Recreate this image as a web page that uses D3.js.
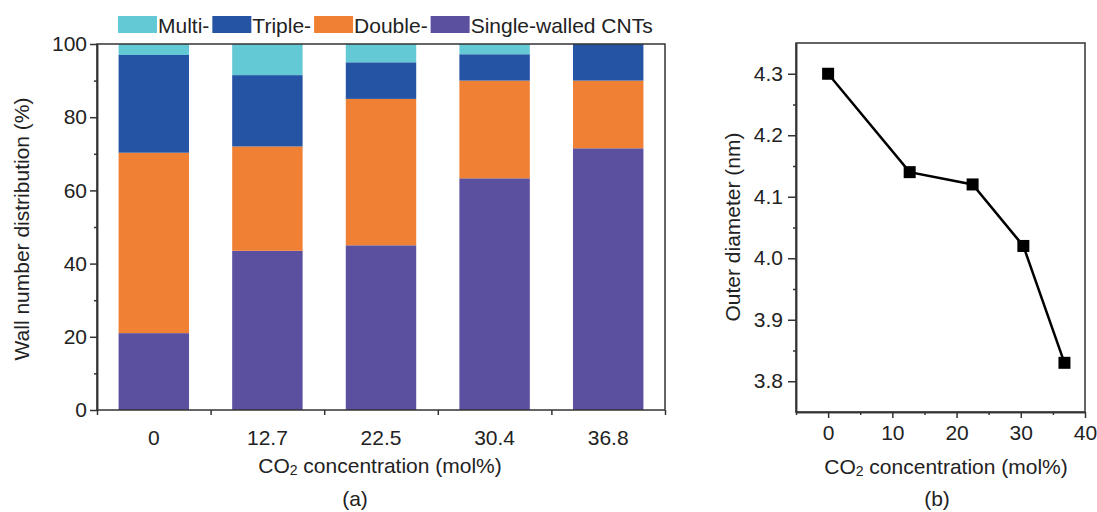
<!DOCTYPE html>
<meta charset="utf-8">
<style>
 body { margin: 0; background: #fff; }
 svg { font-family: "Liberation Sans", Arial, sans-serif; background: #fff; }
 .axis path, .axis line { stroke: #333; stroke-width: 1.5px; }
 .axis text { font-size: 21px; fill: #222; }
 .title { font-size: 21px; fill: #222; }
</style>
<body>
<svg width="1097" height="512"></svg>
<script src="https://d3js.org/d3.v7.min.js"></script>
<script>
 // left panel: wall number distribution (%), stacked
 var concs = ["0", "12.7", "22.5", "30.4", "36.8"];
 var single = [21, 43.5, 45, 63.3, 71.5];
 var double_ = [49.3, 28.5, 40, 26.7, 18.5];
 var triple = [26.7, 19.5, 10, 7.2, 10];
 var multi = [3, 8.5, 5, 2.8, 0];
 var seriesNames = ["Single-walled CNTs", "Double-", "Triple-", "Multi-"];
 var legendOrder = ["Multi-", "Triple-", "Double-", "Single-walled CNTs"];
 var yTicksA = [0, 20, 40, 60, 80, 100];

 // right panel: outer diameter (nm)
 var co2 = [0, 12.7, 22.5, 30.4, 36.8];
 var diameter = [4.30, 4.14, 4.12, 4.02, 3.83];
 var yTicksB = [3.8, 3.9, 4.0, 4.1, 4.2, 4.3];
 var xTicksB = [0, 10, 20, 30, 40];

 var colors = {
     "Single-walled CNTs": "#5b4fa0",
     "Double-": "#f08033",
     "Triple-": "#2454a3",
     "Multi-": "#63c9d4"
 };

 var svg = d3.select("svg");

 /* ---------- panel (a) ---------- */
 var a = {left: 97, right: 665, top: 44, bottom: 410};
 var rows = concs.map(function(c, i) {
     return {"c": c, "Single-walled CNTs": single[i], "Double-": double_[i], "Triple-": triple[i], "Multi-": multi[i]};
 });
 var stack = d3.stack().keys(seriesNames)(rows);

 var xa = d3.scaleBand().domain(concs).range([a.left, a.right]).paddingInner(0.38).paddingOuter(0.19);
 var xEdges = d3.scaleLinear().domain([0, concs.length]).range([a.left, a.right]);
 var ya = d3.scaleLinear().domain([0, 100]).range([a.bottom, a.top]);

 var ga = svg.append("g");
 ga.selectAll("g.layer")
   .data(stack)
   .enter().append("g")
   .attr("fill", function(d) { return colors[d.key]; })
   .selectAll("rect")
   .data(function(d) { return d; })
   .enter().append("rect")
   .attr("x", function(d) { return xa(d.data.c); })
   .attr("width", xa.bandwidth())
   .attr("y", function(d) { return ya(d[1]); })
   .attr("height", function(d) { return ya(d[0]) - ya(d[1]); });

 // frame
 ga.append("rect")
   .attr("x", a.left).attr("y", a.top)
   .attr("width", a.right - a.left).attr("height", a.bottom - a.top)
   .attr("fill", "none").attr("stroke", "#333").attr("stroke-width", 1.5);

 // y axis, major + minor ticks
 ga.append("g").attr("class", "axis")
   .attr("transform", "translate(" + a.left + ",0)")
   .call(d3.axisLeft(ya).tickValues(yTicksA).tickSize(7).tickPadding(3).tickSizeOuter(0));
 ga.append("g").attr("class", "axis")
   .attr("transform", "translate(" + a.left + ",0)")
   .call(d3.axisLeft(ya).tickValues([10, 30, 50, 70, 90]).tickSize(3).tickFormat("").tickSizeOuter(0));

 // x axis: labels at band centres, ticks at band edges
 ga.append("g").attr("class", "axis")
   .attr("transform", "translate(0," + a.bottom + ")")
   .call(d3.axisBottom(xa).tickSize(0).tickPadding(20).tickSizeOuter(0))
   .select(".domain").remove();
 ga.append("g").attr("class", "axis")
   .attr("transform", "translate(0," + a.bottom + ")")
   .call(d3.axisBottom(xEdges).tickValues(d3.range(concs.length + 1)).tickSize(5).tickFormat("").tickSizeOuter(0))
   .select(".domain").remove();

 // legend: swatch then label, next swatch right after the label
 var lx = 118;
 legendOrder.forEach(function(name) {
     var lg = ga.append("g").attr("transform", "translate(" + lx + ",16)");
     lg.append("rect").attr("width", 39).attr("height", 17).attr("fill", colors[name]);
     var t = lg.append("text").attr("class", "title").attr("x", 40).attr("y", 17).text(name);
     lx = lx + 40 + t.node().getComputedTextLength() + 3;
 });

 ga.append("text").attr("class", "title")
   .attr("transform", "translate(29," + 229 + ") rotate(-90)")
   .attr("text-anchor", "middle").text("Wall number distribution (%)");
 var xtA = ga.append("text").attr("class", "title")
   .attr("x", (a.left + a.right) / 2 - 1).attr("y", 473).attr("text-anchor", "middle");
 xtA.append("tspan").text("CO");
 xtA.append("tspan").attr("font-size", "14px").attr("dy", 2).text("2");
 xtA.append("tspan").attr("dy", -2).text(" concentration (mol%)");
 ga.append("text").attr("class", "title")
   .attr("x", 355).attr("y", 506).attr("text-anchor", "middle").text("(a)");

 /* ---------- panel (b) ---------- */
 var b = {left: 796, right: 1085, top: 43, bottom: 412};
 var xb = d3.scaleLinear().domain([-5, 40]).range([b.left, b.right]);
 var yb = d3.scaleLinear().domain([3.75, 4.35]).range([b.bottom, b.top]);
 var gb = svg.append("g");

 gb.append("rect")
   .attr("x", b.left).attr("y", b.top)
   .attr("width", b.right - b.left).attr("height", b.bottom - b.top)
   .attr("fill", "none").attr("stroke", "#333").attr("stroke-width", 1.5);

 gb.append("g").attr("class", "axis")
   .attr("transform", "translate(" + b.left + ",0)")
   .call(d3.axisLeft(yb).tickValues(yTicksB).tickFormat(d3.format(".1f")).tickSize(8).tickPadding(5).tickSizeOuter(0));
 gb.append("g").attr("class", "axis")
   .attr("transform", "translate(" + b.left + ",0)")
   .call(d3.axisLeft(yb).tickValues([3.85, 3.95, 4.05, 4.15, 4.25]).tickSize(3).tickFormat("").tickSizeOuter(0));
 gb.append("g").attr("class", "axis")
   .attr("transform", "translate(0," + b.bottom + ")")
   .call(d3.axisBottom(xb).tickValues(xTicksB).tickSize(6).tickPadding(7).tickSizeOuter(0));
 gb.append("g").attr("class", "axis")
   .attr("transform", "translate(0," + b.bottom + ")")
   .call(d3.axisBottom(xb).tickValues([-5, 5, 15, 25, 35]).tickSize(3).tickFormat("").tickSizeOuter(0));

 var pts = co2.map(function(c, i) { return [c, diameter[i]]; });
 gb.append("path")
   .datum(pts)
   .attr("fill", "none").attr("stroke", "#000").attr("stroke-width", 2.5)
   .attr("d", d3.line().x(function(d) { return xb(d[0]); }).y(function(d) { return yb(d[1]); }));
 gb.selectAll("rect.pt")
   .data(pts)
   .enter().append("rect").attr("class", "pt")
   .attr("x", function(d) { return xb(d[0]) - 6; })
   .attr("y", function(d) { return yb(d[1]) - 6; })
   .attr("width", 12).attr("height", 12).attr("fill", "#000");

 gb.append("text").attr("class", "title")
   .attr("transform", "translate(740," + 227 + ") rotate(-90)")
   .attr("text-anchor", "middle").text("Outer diameter (nm)");
 var xtB = gb.append("text").attr("class", "title")
   .attr("x", 946).attr("y", 474).attr("text-anchor", "middle");
 xtB.append("tspan").text("CO");
 xtB.append("tspan").attr("font-size", "14px").attr("dy", 2).text("2");
 xtB.append("tspan").attr("dy", -2).text(" concentration (mol%)");
 gb.append("text").attr("class", "title")
   .attr("x", 937).attr("y", 506).attr("text-anchor", "middle").text("(b)");
</script>
</body>
